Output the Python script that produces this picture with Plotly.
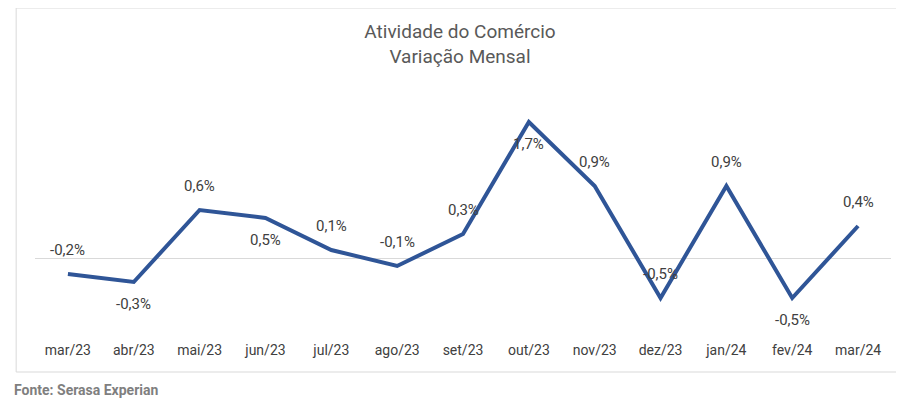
import plotly.graph_objects as go

meses = ["mar/23", "abr/23", "mai/23", "jun/23", "jul/23", "ago/23", "set/23",
         "out/23", "nov/23", "dez/23", "jan/24", "fev/24", "mar/24"]
variacao = [-0.2, -0.3, 0.6, 0.5, 0.1, -0.1, 0.3, 1.7, 0.9, -0.5, 0.9, -0.5, 0.4]
rotulos = [f"{v:.1f}%".replace(".", ",") for v in variacao]
acima = [True, False, True, False, True, True, True, False, True, True, True, False, True]

fig = go.Figure(go.Scatter(
    x=meses, y=variacao, mode="lines",
    line=dict(color="#2f5597", width=4),
))

# rótulos de dados acima/abaixo do ponto
anot = []
for m, v, r, a in zip(meses, variacao, rotulos, acima):
    anot.append(dict(x=m, y=v, text=r, showarrow=False, yshift=24 if a else -22,
                     font=dict(size=15, color="#404040")))
anot.append(dict(text="<b>Fonte: Serasa Experian</b>", xref="paper", yref="paper",
                 x=-0.027, y=-0.2, xanchor="left", yanchor="middle",
                 showarrow=False, font=dict(size=14, color="#7f7f7f")))

fig.update_layout(
    width=904, height=403,
    margin=dict(l=27, r=21, t=82, b=71),
    paper_bgcolor="white", plot_bgcolor="white",
    font=dict(family="Roboto", color="#404040"),
    showlegend=False,
    title=dict(text="Atividade do Comércio<br>Variação Mensal", x=0.5, y=0.925,
               xanchor="center", yanchor="top",
               font=dict(size=19, color="#595959")),
    xaxis=dict(range=[-0.5, 12.5], showgrid=False,
               tickfont=dict(size=14, color="#404040"), showline=False, ticks=""),
    yaxis=dict(range=[-1.025, 2.1], showgrid=False, showticklabels=False,
               zeroline=True, zerolinecolor="#d9d9d9", zerolinewidth=1),
    shapes=[dict(type="rect", xref="paper", yref="paper",
                 x0=-0.022, x1=1.022, y0=-0.128, y1=1.328,
                 line=dict(color="#d9d9d9", width=1))],
    annotations=anot,
)

fig.write_html("out.html")
